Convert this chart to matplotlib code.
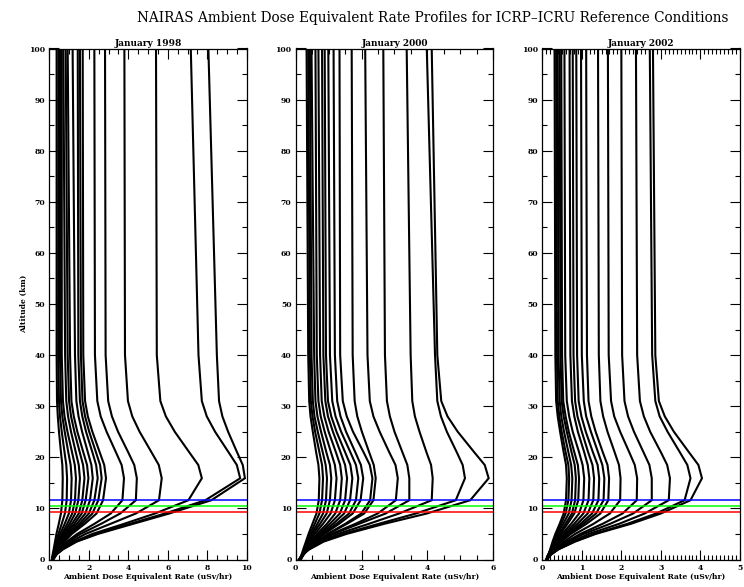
import numpy as np
import matplotlib
matplotlib.use("Agg")
import matplotlib.pyplot as plt
from matplotlib.ticker import MultipleLocator

alt_km = [0, 1, 2, 3.5, 5, 7, 9, 11.6, 15.9, 18.5, 21, 25, 28, 31, 40, 100]

# ambient dose equivalent rate (uSv/hr), one row per profile, January 1998
dose_1998 = [
    [0.13, 0.17, 0.22, 0.29, 0.36, 0.48, 0.59, 0.66, 0.68, 0.66, 0.59, 0.49, 0.43, 0.39, 0.37, 0.37],
    [0.14, 0.19, 0.26, 0.36, 0.46, 0.63, 0.79, 0.88, 0.90, 0.86, 0.77, 0.63, 0.54, 0.49, 0.45, 0.46],
    [0.14, 0.21, 0.29, 0.42, 0.55, 0.78, 0.99, 1.10, 1.13, 1.08, 0.96, 0.78, 0.66, 0.59, 0.54, 0.54],
    [0.14, 0.22, 0.31, 0.47, 0.64, 0.91, 1.16, 1.30, 1.35, 1.29, 1.15, 0.92, 0.77, 0.69, 0.63, 0.63],
    [0.15, 0.23, 0.33, 0.51, 0.71, 1.03, 1.31, 1.47, 1.55, 1.49, 1.34, 1.10, 0.95, 0.86, 0.80, 0.71],
    [0.15, 0.23, 0.35, 0.55, 0.78, 1.15, 1.49, 1.67, 1.78, 1.71, 1.54, 1.27, 1.10, 1.00, 0.93, 0.83],
    [0.15, 0.24, 0.37, 0.59, 0.85, 1.27, 1.64, 1.84, 1.98, 1.91, 1.72, 1.42, 1.24, 1.12, 1.05, 0.93],
    [0.15, 0.25, 0.39, 0.64, 0.93, 1.40, 1.82, 2.06, 2.20, 2.13, 1.95, 1.66, 1.48, 1.37, 1.30, 1.18],
    [0.16, 0.26, 0.41, 0.68, 1.00, 1.53, 2.00, 2.28, 2.45, 2.37, 2.18, 1.86, 1.67, 1.55, 1.47, 1.44],
    [0.16, 0.27, 0.42, 0.72, 1.07, 1.66, 2.18, 2.48, 2.65, 2.57, 2.36, 2.02, 1.81, 1.68, 1.60, 1.55],
    [0.16, 0.27, 0.44, 0.76, 1.14, 1.80, 2.39, 2.72, 2.87, 2.78, 2.55, 2.18, 1.95, 1.81, 1.72, 1.69],
    [0.17, 0.28, 0.48, 0.89, 1.41, 2.29, 3.11, 3.70, 3.78, 3.66, 3.37, 2.90, 2.60, 2.43, 2.31, 2.28],
    [0.18, 0.28, 0.50, 0.96, 1.58, 2.63, 3.59, 4.38, 4.43, 4.30, 3.99, 3.48, 3.17, 2.98, 2.85, 2.82],
    [0.18, 0.31, 0.56, 1.11, 1.83, 3.11, 4.38, 5.55, 5.69, 5.54, 5.17, 4.57, 4.20, 3.98, 3.83, 3.80],
    [0.20, 0.35, 0.63, 1.27, 2.18, 3.80, 5.35, 7.04, 7.72, 7.54, 7.08, 6.35, 5.90, 5.62, 5.44, 5.40],
    [0.20, 0.36, 0.67, 1.34, 2.37, 4.10, 5.85, 7.90, 9.66, 9.49, 9.07, 8.39, 7.97, 7.72, 7.55, 7.16],
    [0.20, 0.37, 0.70, 1.39, 2.46, 4.26, 6.07, 8.20, 9.90, 9.79, 9.50, 9.05, 8.76, 8.59, 8.48, 8.05],
]

# January 2000
dose_2000 = [
    [0.14, 0.18, 0.23, 0.31, 0.39, 0.51, 0.63, 0.70, 0.72, 0.69, 0.62, 0.52, 0.45, 0.41, 0.38, 0.33],
    [0.16, 0.21, 0.26, 0.35, 0.44, 0.58, 0.72, 0.80, 0.83, 0.80, 0.72, 0.59, 0.51, 0.46, 0.43, 0.38],
    [0.15, 0.20, 0.27, 0.38, 0.48, 0.66, 0.83, 0.92, 0.95, 0.91, 0.82, 0.67, 0.57, 0.52, 0.48, 0.43],
    [0.14, 0.20, 0.27, 0.40, 0.52, 0.74, 0.94, 1.04, 1.08, 1.04, 0.93, 0.77, 0.66, 0.60, 0.56, 0.48],
    [0.13, 0.20, 0.29, 0.43, 0.58, 0.83, 1.06, 1.19, 1.24, 1.19, 1.07, 0.88, 0.76, 0.69, 0.64, 0.60],
    [0.14, 0.21, 0.30, 0.47, 0.65, 0.95, 1.20, 1.35, 1.40, 1.35, 1.22, 1.00, 0.87, 0.79, 0.74, 0.69],
    [0.14, 0.21, 0.32, 0.50, 0.71, 1.04, 1.34, 1.50, 1.56, 1.50, 1.36, 1.13, 0.98, 0.90, 0.84, 0.80],
    [0.13, 0.21, 0.33, 0.53, 0.76, 1.14, 1.47, 1.65, 1.72, 1.66, 1.50, 1.24, 1.08, 0.98, 0.92, 0.88],
    [0.14, 0.22, 0.35, 0.57, 0.82, 1.24, 1.62, 1.83, 1.90, 1.83, 1.66, 1.38, 1.21, 1.11, 1.04, 0.99],
    [0.14, 0.23, 0.35, 0.59, 0.87, 1.32, 1.73, 1.97, 2.05, 1.98, 1.81, 1.53, 1.36, 1.26, 1.19, 1.15],
    [0.15, 0.25, 0.38, 0.66, 0.97, 1.51, 1.99, 2.26, 2.33, 2.25, 2.06, 1.74, 1.55, 1.43, 1.35, 1.33],
    [0.14, 0.24, 0.38, 0.66, 0.99, 1.56, 2.08, 2.36, 2.43, 2.37, 2.23, 2.01, 1.87, 1.79, 1.73, 1.70],
    [0.12, 0.20, 0.35, 0.67, 1.09, 1.82, 2.49, 3.04, 3.10, 3.03, 2.84, 2.55, 2.36, 2.25, 2.18, 2.11],
    [0.11, 0.19, 0.35, 0.69, 1.14, 1.93, 2.73, 3.45, 3.45, 3.39, 3.24, 3.00, 2.86, 2.77, 2.71, 2.66],
    [0.10, 0.21, 0.37, 0.74, 1.28, 2.23, 3.14, 4.13, 4.16, 4.11, 3.97, 3.76, 3.62, 3.54, 3.49, 3.37],
    [0.10, 0.20, 0.40, 0.80, 1.43, 2.53, 3.65, 4.86, 5.14, 5.07, 4.89, 4.59, 4.41, 4.30, 4.23, 3.98],
    [0.10, 0.21, 0.42, 0.85, 1.54, 2.70, 3.98, 5.30, 5.86, 5.74, 5.42, 4.92, 4.61, 4.42, 4.30, 4.13],
]

# January 2002
dose_2002 = [
    [0.12, 0.16, 0.20, 0.26, 0.33, 0.44, 0.54, 0.60, 0.62, 0.60, 0.54, 0.45, 0.39, 0.35, 0.33, 0.31],
    [0.13, 0.17, 0.22, 0.29, 0.36, 0.48, 0.59, 0.66, 0.68, 0.66, 0.59, 0.49, 0.43, 0.39, 0.37, 0.35],
    [0.12, 0.16, 0.21, 0.30, 0.38, 0.53, 0.67, 0.74, 0.76, 0.73, 0.66, 0.55, 0.48, 0.44, 0.41, 0.39],
    [0.11, 0.16, 0.22, 0.32, 0.42, 0.59, 0.75, 0.83, 0.85, 0.82, 0.74, 0.62, 0.54, 0.49, 0.46, 0.44],
    [0.10, 0.15, 0.22, 0.33, 0.45, 0.64, 0.81, 0.91, 0.93, 0.90, 0.81, 0.67, 0.59, 0.53, 0.50, 0.48],
    [0.10, 0.16, 0.23, 0.36, 0.50, 0.73, 0.93, 1.04, 1.06, 1.02, 0.93, 0.77, 0.68, 0.62, 0.58, 0.56],
    [0.11, 0.16, 0.25, 0.39, 0.55, 0.81, 1.04, 1.17, 1.19, 1.15, 1.06, 0.90, 0.81, 0.75, 0.71, 0.69],
    [0.10, 0.17, 0.26, 0.41, 0.59, 0.89, 1.15, 1.29, 1.31, 1.27, 1.16, 1.00, 0.89, 0.83, 0.79, 0.77],
    [0.11, 0.17, 0.27, 0.44, 0.64, 0.97, 1.26, 1.42, 1.44, 1.40, 1.28, 1.10, 0.99, 0.92, 0.88, 0.86],
    [0.11, 0.18, 0.28, 0.47, 0.68, 1.04, 1.36, 1.55, 1.57, 1.52, 1.41, 1.23, 1.11, 1.05, 1.00, 0.98],
    [0.12, 0.18, 0.28, 0.48, 0.72, 1.12, 1.47, 1.67, 1.69, 1.65, 1.53, 1.35, 1.24, 1.17, 1.13, 1.11],
    [0.12, 0.20, 0.32, 0.55, 0.83, 1.30, 1.71, 1.97, 1.98, 1.94, 1.83, 1.65, 1.54, 1.47, 1.43, 1.41],
    [0.12, 0.20, 0.33, 0.62, 0.96, 1.53, 2.03, 2.39, 2.40, 2.34, 2.20, 1.97, 1.82, 1.74, 1.68, 1.66],
    [0.12, 0.21, 0.36, 0.66, 1.05, 1.72, 2.30, 2.77, 2.77, 2.71, 2.56, 2.32, 2.17, 2.08, 2.02, 2.00],
    [0.12, 0.21, 0.38, 0.74, 1.18, 1.95, 2.59, 3.20, 3.23, 3.16, 3.00, 2.73, 2.57, 2.47, 2.40, 2.37],
    [0.12, 0.22, 0.41, 0.81, 1.31, 2.16, 2.88, 3.60, 3.75, 3.67, 3.48, 3.17, 2.97, 2.86, 2.78, 2.72],
    [0.11, 0.23, 0.41, 0.83, 1.35, 2.25, 3.00, 3.75, 4.04, 3.95, 3.71, 3.33, 3.10, 2.95, 2.86, 2.80],
]

panel_titles = ["January 1998", "January 2000", "January 2002"]
x_max = [10, 6, 5]
x_major = [2, 2, 1]
x_minor = [0.5, 0.5, 0.1]

# reference flight altitudes (km)
ref_alt = [11.6, 10.5, 9.35]
ref_col = ["#0000ff", "#00ff00", "#ff0000"]

fig = plt.figure(figsize=(7.44, 5.87), dpi=100)
fig.text(433 / 744, 0.97, "NAIRAS Ambient Dose Equivalent Rate Profiles for ICRP\u2013ICRU Reference Conditions",
         ha="center", va="center", family="DejaVu Serif", fontsize=9.8)

lefts = [49.3 / 744, 295.7 / 744, 542.3 / 744]
alt = np.array(alt_km)

for i, data in enumerate([dose_1998, dose_2000, dose_2002]):
    ax = fig.add_axes([lefts[i], 27.5 / 587, 197.6 / 744, 511 / 587])
    for row in data:
        ax.plot(row, alt, color="black", lw=1.5, solid_joinstyle="miter")
    for h, c in zip(ref_alt, ref_col):
        ax.axhline(h, color=c, lw=1.1)

    ax.set_xlim(0, x_max[i])
    ax.set_ylim(0, 100)
    ax.xaxis.set_major_locator(MultipleLocator(x_major[i]))
    ax.xaxis.set_minor_locator(MultipleLocator(x_minor[i]))
    ax.yaxis.set_major_locator(MultipleLocator(10))
    ax.yaxis.set_minor_locator(MultipleLocator(5))
    ax.tick_params(which="both", direction="in", top=True, right=True, width=0.8,
                   labelsize=5.5, pad=3)
    ax.tick_params(which="major", length=7)
    ax.tick_params(which="minor", length=3.5)
    for lab in ax.get_xticklabels() + ax.get_yticklabels():
        lab.set_fontweight("bold")
        lab.set_family("DejaVu Serif")
    for s in ax.spines.values():
        s.set_linewidth(0.9)

    ax.set_title(panel_titles[i], fontsize=6.5, fontweight="bold", family="DejaVu Serif", pad=2)
    ax.set_xlabel("Ambient Dose Equivalent Rate (uSv/hr)", fontsize=5.5, fontweight="bold",
                  family="DejaVu Serif", labelpad=1)
    if i == 0:
        ax.set_ylabel("Altitude (km)", fontsize=5.5, fontweight="bold", family="DejaVu Serif",
                      labelpad=1)

fig.savefig("out.png", dpi=100)
